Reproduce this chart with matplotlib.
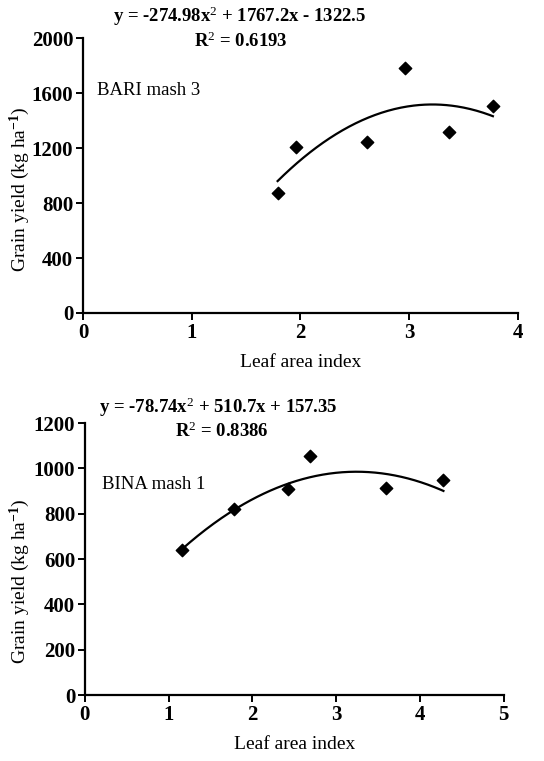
import numpy as np
import matplotlib
matplotlib.use("Agg")
import matplotlib.pyplot as plt

# ── Data ───────────────────────────────────────────────────────────────────
bari_lai = [1.79, 1.96, 2.61, 2.96, 3.37, 3.77]
bari_yield = [870, 1207, 1244, 1782, 1316, 1505]
bari_coef = [-274.98, 1767.2, -1322.5]
bari_eq = "y = -274.98x$^{2}$ + 1767.2x - 1322.5"
bari_r2 = "R$^{2}$ = 0.6193"

bina_lai = [1.16, 1.78, 2.43, 2.69, 3.59, 4.28]
bina_yield = [640, 820, 908, 1056, 913, 950]
bina_coef = [-78.74, 510.7, 157.35]
bina_eq = "y = -78.74x$^{2}$ + 510.7x + 157.35"
bina_r2 = "R$^{2}$ = 0.8386"

plt.rcParams.update({
    "font.family": "Liberation Serif",
    "mathtext.fontset": "custom",
    "mathtext.rm": "Liberation Serif",
    "mathtext.it": "Liberation Serif",
    "mathtext.bf": "Liberation Serif:bold",
    "font.size": 13,
})

fig = plt.figure(figsize=(5.44, 7.61), dpi=100)
ax1 = fig.add_axes([0.1526, 0.5887, 0.7994, 0.3613])
ax2 = fig.add_axes([0.156, 0.0867, 0.770, 0.3573])


def panel(ax, lai, yld, coef, xmax, ymax, ystep, name, name_xy):
    ax.scatter(lai, yld, marker="D", s=40, color="black", zorder=3)
    xs = np.linspace(min(lai), max(lai), 200)
    ax.plot(xs, np.polyval(coef, xs), color="black", lw=1.6)
    ax.set_xlim(0, xmax)
    ax.set_ylim(0, ymax)
    ax.set_xticks(range(0, xmax + 1))
    ax.set_yticks(np.arange(0, ymax + 1, ystep))
    for s in ("top", "right"):
        ax.spines[s].set_visible(False)
    for s in ("left", "bottom"):
        ax.spines[s].set_linewidth(1.6)
    ax.tick_params(direction="out", length=5, width=1.4, labelsize=15, pad=2)
    for lab in ax.get_xticklabels() + ax.get_yticklabels():
        lab.set_fontweight("bold")
    ax.set_xlabel("Leaf area index", fontsize=14, labelpad=8)
    ax.set_ylabel("Grain yield (kg ha$^{\\mathbf{-1}}$)", fontsize=14)
    ax.text(name_xy[0], name_xy[1], name, transform=ax.transAxes,
            fontsize=13.5, ha="left", va="center")


panel(ax1, bari_lai, bari_yield, bari_coef, 4, 2000, 400, "BARI mash 3", (0.032, 0.81))
panel(ax2, bina_lai, bina_yield, bina_coef, 5, 1200, 200, "BINA mash 1", (0.04, 0.775))
ax1.yaxis.set_label_coords(-0.118, 0.45)
ax2.yaxis.set_label_coords(-0.127, 0.42)

fig.text(240 / 544, 1 - 16 / 761, bari_eq, ha="center", va="center",
         fontsize=13.5, fontweight="bold")
fig.text(241 / 544, 1 - 41 / 761, bari_r2, ha="center", va="center",
         fontsize=13.5, fontweight="bold")
fig.text(218 / 544, 1 - 407 / 761, bina_eq, ha="center", va="center",
         fontsize=13.5, fontweight="bold")
fig.text(222 / 544, 1 - 431 / 761, bina_r2, ha="center", va="center",
         fontsize=13.5, fontweight="bold")

fig.savefig("out.png", dpi=100)
